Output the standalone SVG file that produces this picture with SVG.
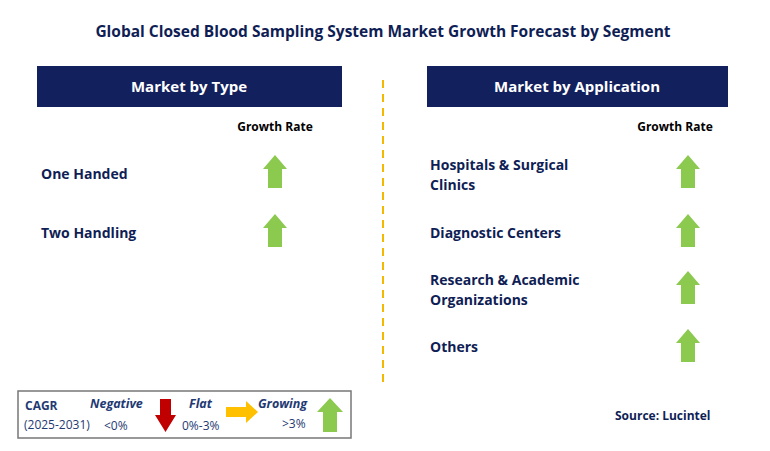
<svg xmlns="http://www.w3.org/2000/svg" width="770" height="451" viewBox="0 0 770 451">
<style>
text{font-family:"Open Sans","DejaVu Sans",sans-serif;font-weight:bold}
.t{font-size:15.5px;fill:#0f1e55}
.h{font-size:15px;fill:#fff}
.g{font-size:12px;fill:#000}
.n{font-size:14px;fill:#0f1e55}
.up{fill:#8cc94f}
.lg{font-size:12px;fill:#1f3a73}
.li{font-size:12.5px;font-style:italic;fill:#1f3a73}
.lv{font-size:12px;font-weight:normal;fill:#1f3a73}
</style>
<defs>
<path id="ua" class="up" d="M0,0 L12,14 L7,14 L7,33 L-7,33 L-7,14 L-12,14 Z"/>
</defs>
<rect width="770" height="451" fill="#fff"/>
<text class="t" x="383" y="37" text-anchor="middle">Global Closed Blood Sampling System Market Growth Forecast by Segment</text>
<g id="connectors"><line x1="383" y1="80" x2="383" y2="382" stroke="#f5b800" stroke-width="2" stroke-dasharray="8,6"/></g>
<g id="h1"><rect x="37" y="66" width="305" height="41" fill="#13205e"/><text class="h" x="189" y="92" text-anchor="middle">Market by Type</text></g>
<g id="h2"><rect x="427" y="66" width="301" height="41" fill="#13205e"/><text class="h" x="577" y="92" text-anchor="middle">Market by Application</text></g>
<text class="g" x="275" y="131" text-anchor="middle">Growth Rate</text>
<text class="g" x="675" y="131" text-anchor="middle">Growth Rate</text>
<g id="n1"><text class="n" x="41" y="179">One Handed</text><use href="#ua" x="275" y="155"/></g>
<g id="n2"><text class="n" x="41" y="238">Two Handling</text><use href="#ua" x="275" y="214"/></g>
<g id="n3"><text class="n" x="430" y="170">Hospitals &amp; Surgical</text><text class="n" x="430" y="190">Clinics</text><use href="#ua" x="688" y="155"/></g>
<g id="n4"><text class="n" x="430" y="238">Diagnostic Centers</text><use href="#ua" x="688" y="214"/></g>
<g id="n5"><text class="n" x="430" y="285">Research &amp; Academic</text><text class="n" x="430" y="305">Organizations</text><use href="#ua" x="688" y="271"/></g>
<g id="n6"><text class="n" x="430" y="352">Others</text><use href="#ua" x="688" y="329"/></g>
<g id="legend">
<rect x="18" y="391" width="333" height="47" fill="#fff" stroke="#777" stroke-width="1.5"/>
<text class="lg" x="25" y="410">CAGR</text>
<text class="lg" x="24" y="429" style="font-weight:normal">(2025-2031)</text>
<text class="li" x="90" y="408">Negative</text>
<text class="lv" x="104" y="430">&lt;0%</text>
<path d="M160,399 L171,399 L171,415 L176,415 L165.5,432 L155,415 L160,415 Z" fill="#c00000"/>
<text class="li" x="189" y="408">Flat</text>
<text class="lv" x="182" y="430">0%-3%</text>
<path d="M226,407 L246,407 L246,401 L258,412 L246,423 L246,417 L226,417 Z" fill="#ffc000"/>
<text class="li" x="258" y="408">Growing</text>
<text class="lv" x="282" y="428">&gt;3%</text>
<path d="M330,398 L343,412 L337,412 L337,432 L323,432 L323,412 L317,412 Z" class="up"/>
</g>
<text class="g" x="615" y="420" style="fill:#0f1e55">Source: Lucintel</text>
</svg>
